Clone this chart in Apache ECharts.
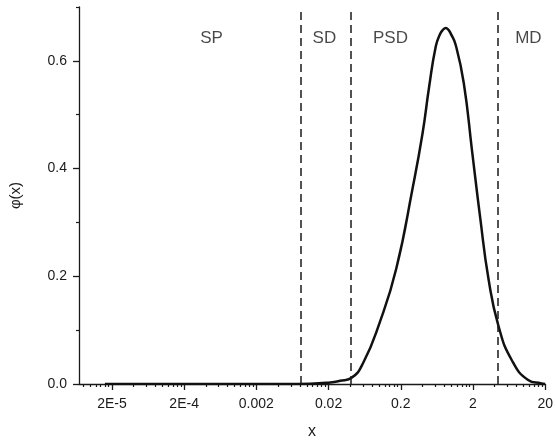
<!DOCTYPE html>
<html>
<head>
<meta charset="utf-8">
<script src="https://cdn.jsdelivr.net/npm/echarts@6/dist/echarts.min.js"></script>
<style>
html, body { margin: 0; padding: 0; background: #fff; }
#chartDom { width: 556px; height: 445px; }
</style>
</head>
<body>
<div id="chartDom"></div>
<script>
var xValues = [1.6e-5, 1e-4, 1e-3, 0.005, 0.0112, 0.0211, 0.0289, 0.0409, 0.0602, 0.102, 0.173, 0.292,
    0.400, 0.494, 0.611, 0.70, 0.77, 0.838, 0.91, 0.98, 1.15, 1.49, 1.94, 2.52, 3.28, 4.50, 6.84, 11.6, 17.6, 20];
var phiValues = [0, 0, 0, 0, 0.0005, 0.003, 0.006, 0.011, 0.039, 0.114, 0.214, 0.364,
    0.465, 0.552, 0.627, 0.650, 0.658, 0.661, 0.658, 0.651, 0.630, 0.559, 0.433, 0.308, 0.195, 0.108, 0.045, 0.0075, 0.001, 0];

var tickValues = [2e-5, 2e-4, 0.002, 0.02, 0.2, 2, 20];
var tickLabels = ['2E-5', '2E-4', '0.002', '0.02', '0.2', '2', '20'];
var yTicks = [0, 0.2, 0.4, 0.6];
var yMinorTicks = [0.1, 0.3, 0.5, 0.7];

var boundaries = [0.0084, 0.041, 4.4];
var regionNames = ['SP', 'SD', 'PSD', 'MD'];
var regionCenters = [4.8e-4, 0.0175, 0.144, 11.7];
var regionLabelY = 0.642;

var xMin = 7e-6, xMax = 20;

var lg = Math.log10;
var ink = '#1a1a1a';
var font = 'Liberation Sans, Arial, sans-serif';

// log minor ticks: steps of 2*10^k inside each 2..20 decade
var minorTicks = [];
for (var k = -6; k <= 0; k++) {
    var base = 2 * Math.pow(10, k);
    for (var m = 2; m <= 9; m++) {
        var v = base * m;
        if (v > xMin && v < xMax) minorTicks.push(lg(v));
    }
}

var curve = xValues.map(function (x, i) { return [lg(x), phiValues[i]]; });
var regionData = regionNames.map(function (n, i) {
    return { name: n, value: [lg(regionCenters[i]), regionLabelY] };
});

var chart = echarts.init(document.getElementById('chartDom'));
var option = {
    animation: false,
    backgroundColor: '#fff',
    grid: { left: 76, right: 9, top: 7, bottom: 57 },
    xAxis: [
        {
            type: 'value',
            min: lg(xMin),
            max: lg(xMax),
            name: 'x',
            nameLocation: 'middle',
            nameGap: 40,
            nameTextStyle: { color: ink, fontSize: 16, fontFamily: font },
            axisLine: { onZero: false, lineStyle: { color: ink, width: 1.3 } },
            axisTick: { customValues: tickValues.map(lg), length: 6, lineStyle: { color: ink, width: 1.3 } },
            axisLabel: {
                customValues: tickValues.map(lg),
                margin: 13,
                color: ink,
                fontSize: 14,
                fontFamily: font,
                formatter: function (v) {
                    for (var i = 0; i < tickValues.length; i++) {
                        if (Math.abs(v - lg(tickValues[i])) < 1e-6) return tickLabels[i];
                    }
                    return '';
                }
            },
            splitLine: { show: false }
        },
        {
            type: 'value',
            position: 'bottom',
            min: lg(xMin),
            max: lg(xMax),
            axisLine: { show: false, onZero: false },
            axisTick: { customValues: minorTicks, length: 3, lineStyle: { color: ink, width: 1.2 } },
            axisLabel: { show: false },
            splitLine: { show: false }
        }
    ],
    yAxis: [
        {
            type: 'value',
            min: 0,
            max: 0.7,
            name: 'φ(x)',
            nameLocation: 'middle',
            nameGap: 56,
            nameTextStyle: { color: ink, fontSize: 15, fontFamily: font },
            axisLine: { show: true, onZero: false, lineStyle: { color: ink, width: 1.3 } },
            axisTick: { show: true, customValues: yTicks, length: 6, lineStyle: { color: ink, width: 1.3 } },
            axisLabel: {
                customValues: yTicks,
                margin: 12,
                color: ink,
                fontSize: 14,
                fontFamily: font,
                formatter: function (v) { return v.toFixed(1); }
            },
            splitLine: { show: false }
        },
        {
            type: 'value',
            position: 'left',
            min: 0,
            max: 0.7,
            axisLine: { show: false, onZero: false },
            axisTick: { show: true, customValues: yMinorTicks, length: 3, lineStyle: { color: ink, width: 1.2 } },
            axisLabel: { show: false },
            splitLine: { show: false }
        }
    ],
    series: [
        {
            type: 'line',
            data: curve,
            showSymbol: false,
            smooth: 0.5,
            lineStyle: { color: '#111', width: 2.5 },
            markLine: {
                silent: true,
                symbol: ['none', 'none'],
                label: { show: false },
                lineStyle: { color: ink, width: 1.5, type: [8, 5] },
                data: boundaries.map(function (b) { return { xAxis: lg(b) }; })
            }
        },
        {
            type: 'scatter',
            data: regionData,
            symbolSize: 0,
            silent: true,
            label: {
                show: true,
                position: 'inside',
                formatter: '{b}',
                color: ink,
                fontSize: 17,
                fontFamily: font
            }
        }
    ]
};
chart.setOption(option);
</script>
</body>
</html>
